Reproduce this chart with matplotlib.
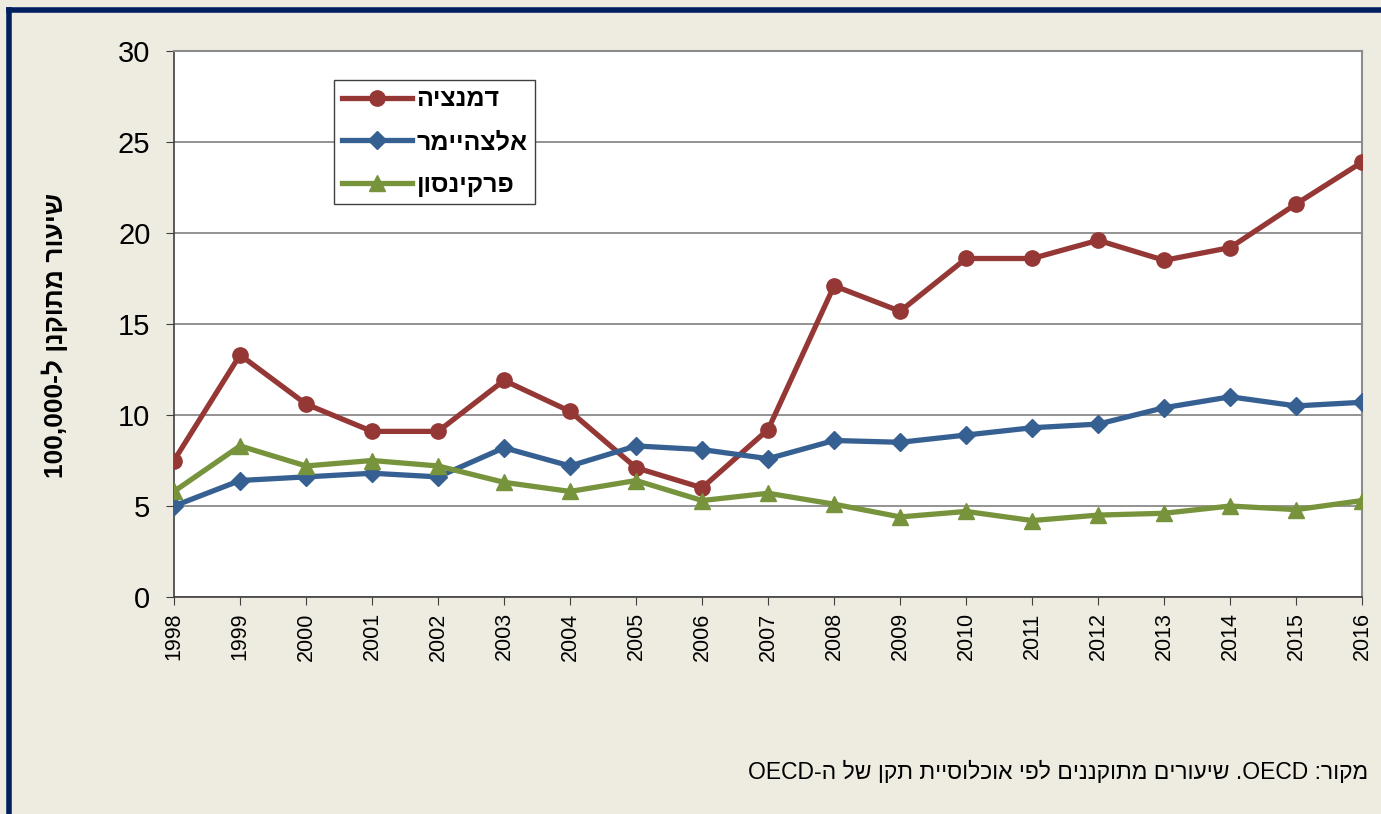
import matplotlib
matplotlib.use("Agg")
import matplotlib.pyplot as plt
from matplotlib.lines import Line2D

plt.rcParams['font.family'] = ['Liberation Sans', 'DejaVu Sans']

# data (rate per 100,000, age-standardised)
years = list(range(1998, 2017))
dementia = [7.5, 13.3, 10.6, 9.1, 9.1, 11.9, 10.2, 7.1, 6.0, 9.2,
            17.1, 15.7, 18.6, 18.6, 19.6, 18.5, 19.2, 21.6, 23.9]
alzheimer = [5.0, 6.4, 6.6, 6.8, 6.6, 8.2, 7.2, 8.3, 8.1, 7.6,
             8.6, 8.5, 8.9, 9.3, 9.5, 10.4, 11.0, 10.5, 10.7]
parkinson = [5.8, 8.3, 7.2, 7.5, 7.2, 6.3, 5.8, 6.4, 5.3, 5.7,
             5.1, 4.4, 4.7, 4.2, 4.5, 4.6, 5.0, 4.8, 5.3]
yticks = [0, 5, 10, 15, 20, 25, 30]

# matplotlib has no bidi, so Hebrew runs are reversed by hand
names = ["דמנציה"[::-1], "אלצהיימר"[::-1], "פרקינסון"[::-1]]
ylab = "100,000-ל " + "שיעור מתוקנן"[::-1]
source = "OECD-ה " + "שיעורים מתוקננים לפי אוכלוסיית תקן של"[::-1] + " .OECD :" + "מקור"[::-1]

BG = "#EEECE1"
fig = plt.figure(figsize=(13.81, 8.14), dpi=100, facecolor=BG)
ax = fig.add_axes([0.126, 0.2666, 0.8604, 0.6707])
ax.set_facecolor("white")

ax.plot(years, dementia, color="#953735", lw=3.8, marker="o", ms=11, label=names[0], zorder=3)
ax.plot(years, alzheimer, color="#376092", lw=3.8, marker="D", ms=9, label=names[1], zorder=4)
ax.plot(years, parkinson, color="#77933C", lw=3.8, marker="^", ms=11, label=names[2], zorder=5)

ax.set_xlim(1998, 2016)
ax.set_ylim(0, 30)
ax.set_yticks(yticks)
ax.set_xticks(years)
ax.set_xticklabels([str(y) for y in years], rotation=90)
ax.tick_params(axis="y", labelsize=21, length=6, color="#404040", direction="out", pad=11)
ax.tick_params(axis="x", labelsize=15.5, length=6, color="#404040", direction="out", pad=5)
ax.grid(axis="y", color="#808080", lw=1.2)
ax.set_axisbelow(True)
for s in ["top", "right"]:
    ax.spines[s].set_color("#8c8c8c")
    ax.spines[s].set_linewidth(1.5)
for s in ["left", "bottom"]:
    ax.spines[s].set_color("#404040")
    ax.spines[s].set_linewidth(1.2)

leg = ax.legend(loc="upper left", bbox_to_anchor=(0.1347, 0.947), borderaxespad=0,
                frameon=True, fancybox=False, edgecolor="#404040", framealpha=1,
                prop={"weight": "bold", "size": 18}, handlelength=2.8,
                labelspacing=0.75, borderpad=0.3, handletextpad=0.2)
leg.get_frame().set_linewidth(1.0)

fig.text(0.040, 0.588, ylab, rotation=90, ha="center", va="center",
         fontsize=19, fontweight="bold")
fig.text(0.9906, 0.051, source, ha="right", va="center", fontsize=16.5)

# navy frame on the top and left edges
fig.add_artist(Line2D([0.0065, 1.0], [0.9875, 0.9875], color="#002060", lw=4,
                      transform=fig.transFigure))
fig.add_artist(Line2D([0.0068, 0.0068], [0.0, 0.9875], color="#002060", lw=4,
                      transform=fig.transFigure))

fig.savefig("out.png", dpi=100, facecolor=BG)
